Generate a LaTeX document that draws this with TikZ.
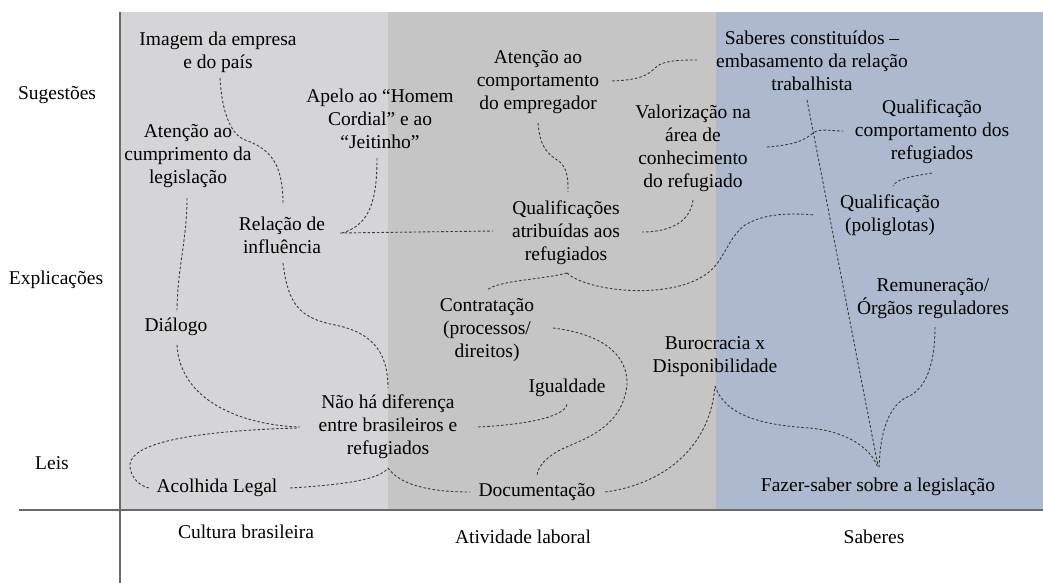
\documentclass[tikz,border=0pt]{standalone}
\usepackage{fontspec}
\setmainfont{Liberation Serif}
\usetikzlibrary{calc}
\usetikzlibrary{positioning}
\definecolor{bg1}{RGB}{213,212,214}
\definecolor{bg2}{RGB}{197,197,198}
\definecolor{bg3}{RGB}{173,185,206}
\definecolor{l1}{RGB}{60,60,60}
\definecolor{ax}{RGB}{105,105,105}

\begin{document}
\begin{tikzpicture} [
    x=1pt, y=-1pt,
    t/.style={
        font=\fontsize{19.5}{23}\selectfont,
        align=center, inner sep=0pt
    },
    dd/.style={
        dash pattern=on 2.6pt off 2pt, color=l1, line width=0.9pt
    },
    ax/.style={
        color=ax, line width=1.2pt
    }
]

\pgfdeclarelayer{background}
\pgfsetlayers{background,main}

\useasboundingbox (0,0) rectangle (1043,583);

% row and column labels
\node [t] (sug)  at (57, 95)   {Sugestões};
\node [t] (expl) at (56, 280)  {Explicações};
\node [t] (leis) at (52, 463)  {Leis};
\node [t] (cult) at (246, 532) {Cultura brasileira};
\node [t] (ativ) at (523, 537) {Atividade laboral};
\node [t] (sab)  at (874, 537) {Saberes};

% cultura brasileira
\node [t] (img)   at (218, 52)  {Imagem da empresa\\e do país};
\node [t] (cump)  at (188, 156) {Atenção ao\\cumprimento da\\legislação};
\node [t] (apelo) at (380, 119) {Apelo ao “Homem\\Cordial” e ao\\“Jeitinho”};
\node [t] (rel)   at (282, 235) {Relação de\\influência};
\node [t] (dial)  at (176, 327) {Diálogo};
\node [t] (naoha) at (388, 427) {Não há diferença\\entre brasileiros e\\refugiados};
\node [t] (acolh) at (217, 488) {Acolhida Legal};

% atividade laboral
\node [t] (compemp) at (538, 82)  {Atenção ao\\comportamento\\do empregador};
\node [t] (valor)   at (693, 148) {Valorização na\\área de\\conhecimento\\do refugiado};
\node [t] (qualif)  at (566, 233) {Qualificações\\atribuídas aos\\refugiados};
\node [t] (contr)   at (487, 330) {Contratação\\(processos/\\direitos)};
\node [t] (igual)   at (567, 388) {Igualdade};
\node [t] (doc)     at (537, 492) {Documentação};
\node [t] (buroc)   at (715, 357) {Burocracia x\\Disponibilidade};

% saberes
\node [t] (saberes) at (812, 61)  {Saberes constituídos –\\embasamento da relação\\trabalhista};
\node [t] (qcomp)   at (932, 132) {Qualificação\\comportamento dos\\refugiados};
\node [t] (qpol)    at (890, 215) {Qualificação\\(poliglotas)};
\node [t] (remun)   at (933, 299) {Remuneração/\\Órgãos reguladores};
\node [t] (fazer)   at (878, 487) {Fazer-saber sobre a legislação};

\begin{pgfonlayer}{background}

\fill [bg1] (120, 12) rectangle (388, 510);
\fill [bg2] (388, 12) rectangle (716, 510);
\fill [bg3] (716, 12) rectangle (1043, 510);

\draw [ax] (120, 12) -- (120, 583);
\draw [ax] (19, 510) -- (1043, 510);

\end{pgfonlayer}

% cultura brasileira
\draw [dd] ($(img)+(2,26)$) .. controls ++(2,37) and ++(-13,-5) .. (245,140)
    .. controls ++(30,10) and ($(rel)+(1,-65)$) .. ($(rel)+(1,-30)$);
\draw [dd] ($(apelo)+(-3,39)$) .. controls ++(0,42) and ++(28,-8) .. ($(rel)+(60,-2)$);
\draw [dd] ($(rel)+(58,-2)$) -- ($(qualif)+(-73,-2)$);
\draw [dd] ($(rel)+(1,28)$) .. controls ++(5,42) and ++(-35,-7) .. (335,325)
    .. controls ++(40,8) and ($(naoha)+(0,-72)$) .. ($(naoha)+(0,-39)$);
\draw [dd] ($(cump)+(-1,42)$) .. controls ++(0,42) and ++(0,-42) .. ($(dial)+(1,-15)$);
\draw [dd] ($(dial)+(1,18)$) .. controls ++(3,55) and ++(-60,-2) .. ($(naoha)+(-88,0)$);
\draw [dd] ($(naoha)+(-91,1)$) .. controls ++(-137,4) and ++(-2,-17) .. (130,467)
    .. controls ++(1,11) and ++(-9,-2) .. ($(acolh)+(-68,0)$);
\draw [dd] ($(acolh)+(73,0)$) .. controls ++(50,-3) and ++(-8,12) .. ($(naoha)+(0,41)$);
\draw [dd] ($(naoha)+(0,41)$) .. controls ++(12,17) and ++(-40,0) .. ($(doc)+(-67,0)$);

% atividade laboral
\draw [dd] ($(naoha)+(90,0)$) .. controls ++(42,-2) and ++(-2,14) .. ($(igual)+(0,16)$);
\draw [dd] ($(contr)+(66,-2)$) .. controls ++(57,7) and ++(1,-25) .. (627,385)
    .. controls ++(-5,45) and ++(20,-10) .. (560,450)
    .. controls ++(-15,8) and ++(0,-8) .. ($(doc)+(0,-16)$);
\draw [dd] ($(doc)+(68,0)$) .. controls ++(55,-7) and ++(-5,64) .. ($(buroc)+(0,29)$);
\draw [dd] ($(compemp)+(74,-1)$) .. controls ++(28,-1) and ++(-7,7) .. (655,68)
    .. controls ++(7,-7) and ++(-22,0) .. ($(saberes)+(-115,-1)$);
\draw [dd] ($(compemp)+(0,41)$) .. controls ++(2,27) and ++(-10,-7) .. (560,162)
    .. controls ++(8,8) and ++(0,-12) .. ($(qualif)+(2,-41)$);
\draw [dd] ($(valor)+(0,52)$) .. controls ++(-3,25) and ++(23,0) .. ($(qualif)+(76,-1)$);
\draw [dd] ($(qualif)+(1,40)$) .. controls ++(-27,7) and ++(13,-10) .. ($(contr)+(0,-40)$);
\draw [dd] ($(qualif)+(1,40)$) .. controls ++(18,17) and ++(-40,22) .. (700,278)
    .. controls ++(25,-13) and ++(-20,15) .. (745,225)
    .. controls ++(20,-12) and ++(-25,-2) .. ($(qpol)+(-75,0)$);

% saberes
\draw [dd] ($(buroc)+(0,29)$) .. controls ++(10,29) and ++(-50,-3) .. (810,428)
    .. controls ++(40,4) and ++(-6,-18) .. ($(fazer)+(0,-19)$);
\draw [dd] ($(remun)+(2,28)$) .. controls ++(0,33) and ++(23,-8) .. (905,398)
    .. controls ++(-20,12) and ++(1,-28) .. ($(fazer)+(1,-19)$);
\draw [dd] ($(saberes)+(-5,39)$) -- ($(fazer)+(0,-21)$);
\draw [dd] ($(valor)+(74,-1)$) .. controls ++(28,-2) and ++(-8,7) .. (813,133)
    .. controls ++(7,-5) and ++(-13,0) .. ($(qcomp)+(-89,-1)$);
\draw [dd] ($(qcomp)+(0,41)$) .. controls ++(-17,3) and ++(4,-8) .. ($(qpol)+(3,-29)$);

\end{tikzpicture}
\end{document}
